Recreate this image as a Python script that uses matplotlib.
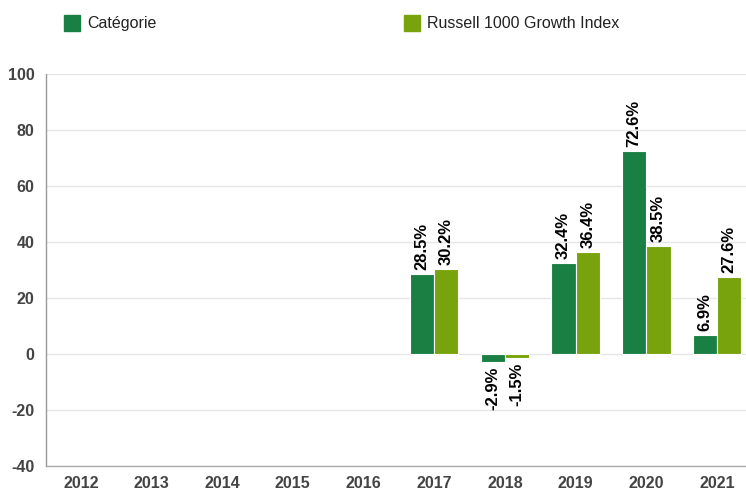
import numpy as np
import matplotlib.pyplot as plt
from matplotlib.patches import Rectangle

plt.rcParams["font.family"] = ["Liberation Sans", "DejaVu Sans"]
plt.rcParams["axes.unicode_minus"] = False

# ----------------------------
# data (annual returns, %)
# ----------------------------
years = ["2012", "2013", "2014", "2015", "2016", "2017", "2018", "2019", "2020", "2021"]
categorie = [np.nan, np.nan, np.nan, np.nan, np.nan, 28.5, -2.9, 32.4, 72.6, 6.9]
russell = [np.nan, np.nan, np.nan, np.nan, np.nan, 30.2, -1.5, 36.4, 38.5, 27.6]
series_names = ["Catégorie", "Russell 1000 Growth Index"]
y_ticks = [-40, -20, 0, 20, 40, 60, 80, 100]

c_cat = "#1a7f43"
c_rus = "#78a30c"

W, H = 746, 491
fig = plt.figure(figsize=(W / 100, H / 100), dpi=100)
# axes slightly wider than the picture: last column is clipped on the right
ax = fig.add_axes([45.5 / W, 1 - 466 / H, 706.7 / W, 392 / H])

x = np.arange(len(years))
bw = 0.344

for vals, off, col in [(categorie, -bw / 2, c_cat), (russell, bw / 2, c_rus)]:
    ax.bar(x + off, vals, width=bw, color=col, edgecolor="white",
           linewidth=0.8, zorder=3)
    for xi, v in zip(x + off, vals):
        if np.isnan(v):
            continue
        up = v >= 0
        ax.annotate(f"{v:.1f}%", (xi, v), xytext=(0, 3 if up else -3),
                    textcoords="offset points", rotation=90, ha="center",
                    va="bottom" if up else "top", fontsize=12, fontweight="bold",
                    color="#000000", zorder=4)

ax.set_xlim(-0.5, len(years) - 0.5)
ax.set_ylim(-40, 100)
ax.set_yticks(y_ticks)
ax.set_xticks(x)
ax.set_xticklabels(years)
ax.tick_params(axis="both", length=0, labelsize=11.5, labelcolor="#444444")
ax.tick_params(axis="y", pad=8)
ax.tick_params(axis="x", pad=7)
for lab in ax.get_xticklabels() + ax.get_yticklabels():
    lab.set_fontweight("bold")

ax.grid(axis="y", color="#e6e6e6", linewidth=1, zorder=0)
for s in ["top", "right"]:
    ax.spines[s].set_visible(False)
ax.spines["left"].set_color("#999999")
ax.spines["bottom"].set_color("#aaaaaa")
ax.spines["left"].set_linewidth(1)
ax.spines["bottom"].set_linewidth(1)

# legend drawn at the top
for (sx, tx), name, col in zip([(64, 87), (404, 427)], series_names, [c_cat, c_rus]):
    fig.patches.append(Rectangle((sx / W, 1 - 31 / H), 16 / W, 16 / H,
                                 transform=fig.transFigure, color=col))
    fig.text(tx / W, 1 - 23.5 / H, name, fontsize=11.5, color="#222222",
             ha="left", va="center")

fig.savefig("out.png", dpi=100)
